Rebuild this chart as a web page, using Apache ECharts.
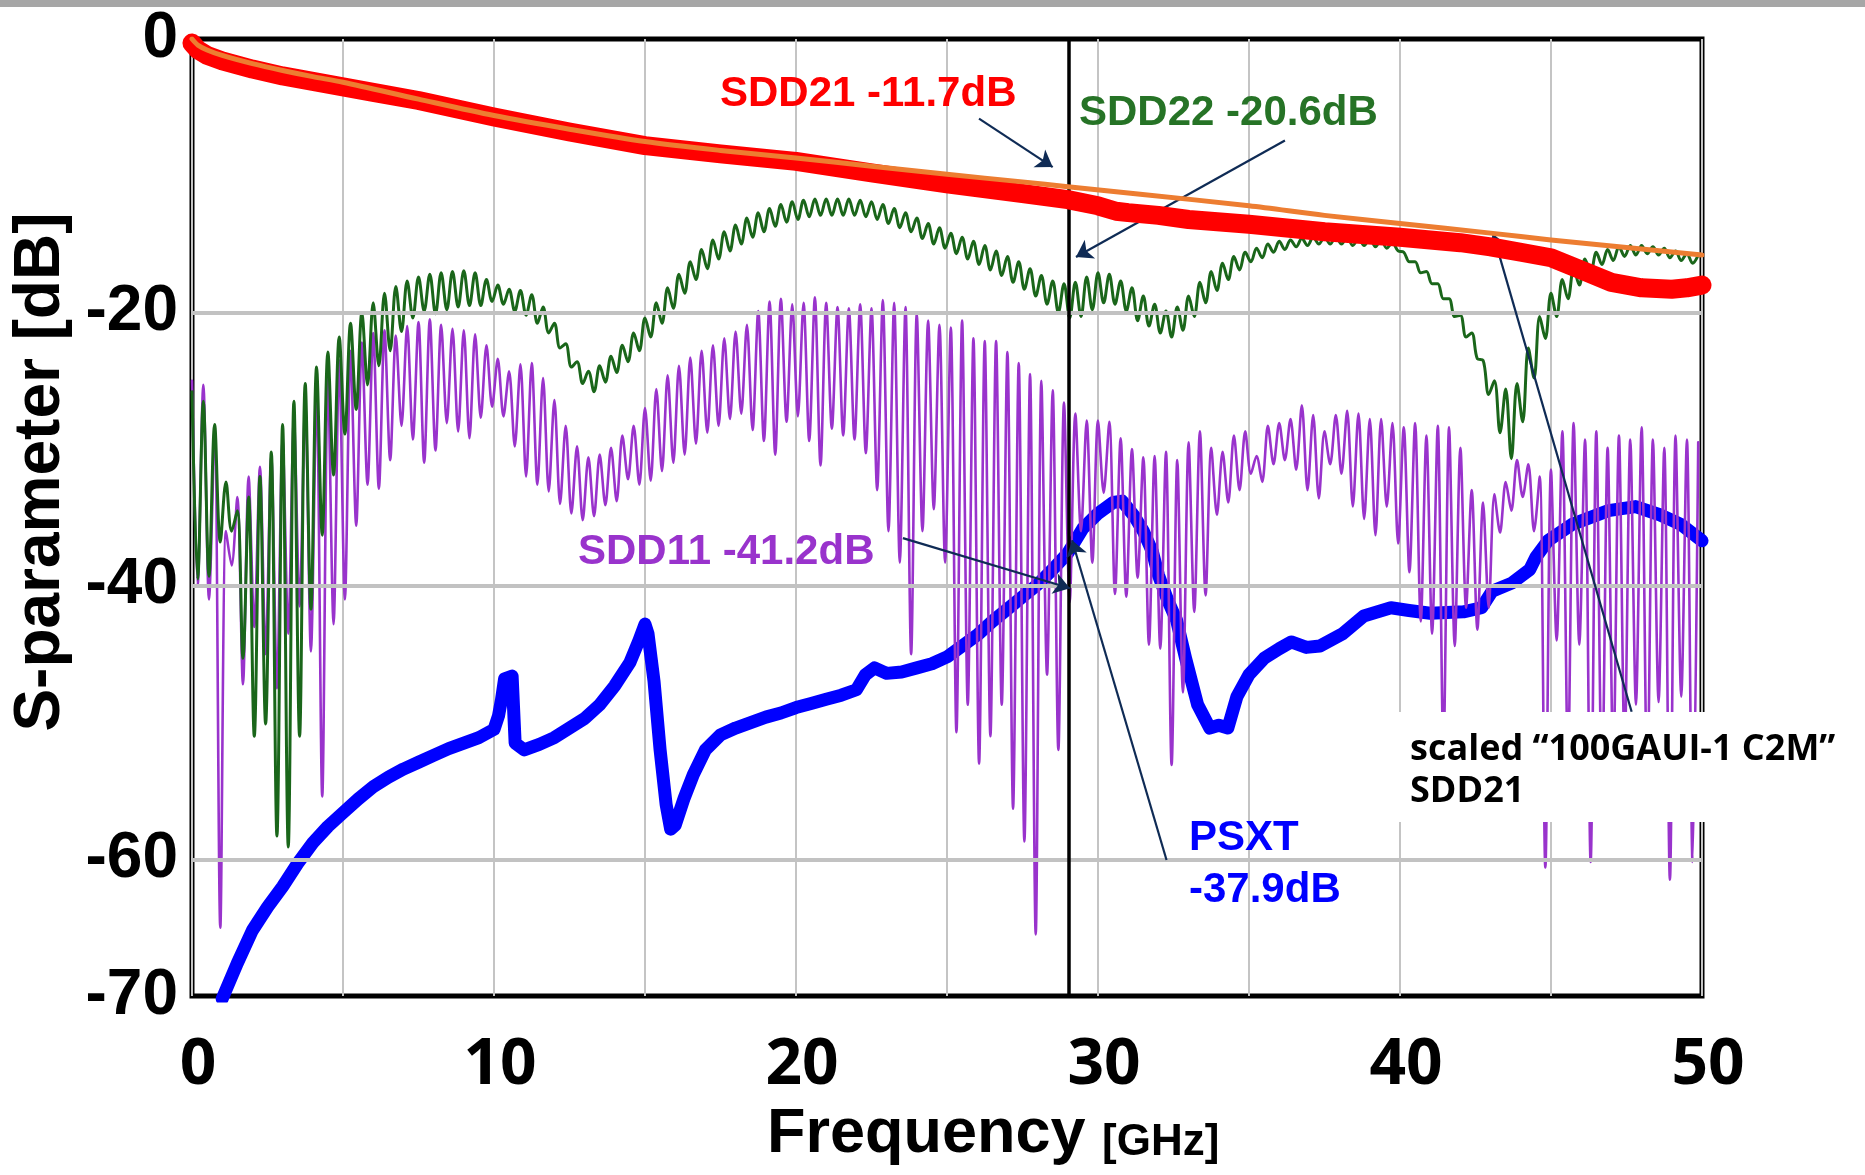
<!DOCTYPE html>
<html><head><meta charset="utf-8">
<script src="https://cdn.jsdelivr.net/npm/echarts/dist/echarts.min.js"></script>
<style>html,body{margin:0;padding:0;background:#fff}#c{width:1865px;height:1175px}</style>
</head><body><div id="c"></div>
<script>
// ---------- data ----------
const yTickLabels = [0, -20, -40, -60, -70];
const xTickLabels = [0, 10, 20, 30, 40, 50];
const yGridLines = [-20, -40, -60];
const markerFreq = 29.04;

// SDD21 (measured, red)
const sdd21Freq = [0,0.2,0.5,1,2,3,4,5,6,7.5,10,12.5,15,17.5,20,22.5,25,27.5,29,30,30.6,31,32,33,35,37.5,40,42,43,44,45,46,47,48,49,49.5,50];
const sdd21Db = [-0.3,-0.8,-1.2,-1.6,-2.2,-2.7,-3.1,-3.5,-3.9,-4.5,-5.7,-6.8,-7.8,-8.4,-8.95,-9.8,-10.6,-11.3,-11.75,-12.2,-12.6,-12.7,-12.9,-13.2,-13.55,-14.1,-14.5,-14.9,-15.2,-15.6,-16.0,-16.9,-17.8,-18.2,-18.3,-18.2,-18.0];

// scaled "100GAUI-1 C2M" SDD21 (orange)
const c2mFreq = [0,0.2,0.5,1,2,3,4,5,7.5,10,12.5,15,17.5,20,22.5,25,27.5,29,31.4,35,37.5,40,43,45,47.5,50];
const c2mDb = [0,-0.45,-0.8,-1.2,-1.8,-2.3,-2.75,-3.16,-4.4,-5.6,-6.6,-7.5,-8.15,-8.7,-9.3,-9.9,-10.45,-10.8,-11.35,-12.2,-12.9,-13.5,-14.2,-14.7,-15.25,-15.8];

// PSXT (blue)
const psxtFreq = [1.0,1.5,2.0,2.5,3.0,3.5,4.0,4.5,5.0,5.5,6.0,6.5,7.0,7.5,8.0,8.5,9.0,9.5,10.0,10.15,10.25,10.35,10.6,10.7,11.0,11.5,12.0,12.5,13.0,13.5,14.0,14.5,14.8,15.0,15.1,15.3,15.5,15.7,15.85,16.0,16.3,16.6,17.0,17.5,18.0,18.5,19.0,19.5,20.0,20.5,21.0,21.5,22.0,22.3,22.6,23.0,23.5,24.0,24.5,25.0,25.5,26.0,26.5,27.0,27.5,28.0,28.5,29.0,29.5,30.0,30.5,30.8,31.2,31.5,31.8,32.0,32.3,32.6,32.9,33.3,33.7,34.0,34.3,34.6,35.0,35.5,36.0,36.4,36.9,37.35,38.1,38.8,39.7,40.3,41.0,42.1,42.7,43.05,43.7,44.3,44.5,44.9,45.7,46.9,47.8,48.6,49.3,50.0];
const psxtDb = [-70.2,-67.6,-65.2,-63.5,-62.0,-60.3,-58.8,-57.6,-56.6,-55.6,-54.7,-54.0,-53.4,-52.9,-52.4,-51.9,-51.5,-51.1,-50.5,-49.5,-48.3,-46.8,-46.6,-51.5,-52.0,-51.6,-51.1,-50.4,-49.7,-48.7,-47.3,-45.6,-44.0,-42.8,-43.5,-47.0,-52.0,-56.0,-57.8,-57.5,-55.5,-53.8,-52.0,-50.9,-50.4,-50.0,-49.6,-49.3,-48.9,-48.6,-48.3,-48.0,-47.6,-46.5,-46.0,-46.4,-46.3,-46.0,-45.7,-45.2,-44.4,-43.6,-42.6,-41.7,-40.8,-39.9,-38.8,-37.6,-35.8,-34.7,-33.9,-33.8,-34.9,-36.0,-37.5,-39.2,-41.0,-42.5,-45.3,-48.7,-50.4,-50.2,-50.4,-48.1,-46.5,-45.3,-44.6,-44.1,-44.5,-44.4,-43.5,-42.2,-41.6,-41.8,-42.0,-41.9,-41.6,-40.4,-39.8,-38.8,-37.9,-36.7,-35.5,-34.5,-34.2,-34.8,-35.5,-36.7];

// Ripple traces: sample spacing (GHz) between a ripple maximum and the next minimum
const rippleStep = 0.1875;

// SDD22 (green): successive ripple maxima and minima
const sdd22Peaks = [
-25.8,-26.5,-28.2,-32.4,-34.5,-33.5,-32.0,-30.2,-28.2,-26.5,
-25.2,-24.0,-22.9,-21.8,-20.8,-20.0,-19.3,-18.6,-18.1,-17.7,
-17.4,-17.2,-17.1,-17.0,-16.95,-17.1,-17.6,-18.0,-18.3,-18.4,
-18.7,-19.6,-20.8,-22.3,-23.6,-24.3,-23.9,-23.2,-22.4,-21.5,
-20.4,-19.3,-18.2,-17.2,-16.3,-15.4,-14.7,-14.1,-13.6,-13.1,
-12.7,-12.4,-12.1,-11.9,-11.8,-11.7,-11.7,-11.7,-11.7,-11.8,
-11.9,-12.1,-12.4,-12.7,-13.1,-13.5,-13.8,-14.2,-14.5,-14.8,
-15.1,-15.5,-15.9,-16.3,-16.8,-17.3,-17.7,-17.9,-17.8,-17.4,
-17.1,-17.2,-17.7,-18.2,-18.8,-19.4,-19.9,-19.6,-18.8,-17.8,
-17.0,-16.4,-15.9,-15.6,-15.3,-15.0,-14.8,-14.7,-14.6,-14.5,
-14.5,-14.5,-14.5,-14.6,-14.6,-14.7,-14.9,-15.6,-16.3,-17.0,
-17.9,-19.0,-20.2,-21.5,-23.5,-25.0,-25.6,-25.2,-22.6,-20.3,
-18.6,-17.6,-16.8,-16.1,-15.6,-15.4,-15.2,-15.1,-15.1,-15.2,
-15.3,-15.5,-15.7,-15.8];
const sdd22Dips = [
-39.5,-39.3,-36.8,-36.0,-45.3,-51.0,-50.1,-58.3,-59.1,-51.0,
-41.7,-36.3,-31.9,-28.9,-27.1,-25.3,-23.9,-22.8,-21.4,-20.4,
-19.9,-20.1,-19.8,-19.6,-19.5,-19.5,-19.2,-19.4,-19.9,-20.2,
-20.8,-21.5,-22.6,-24.0,-25.2,-25.8,-25.1,-24.4,-23.6,-22.8,
-21.8,-20.8,-19.7,-18.6,-17.6,-16.8,-16.1,-15.5,-15.0,-14.5,
-14.1,-13.7,-13.4,-13.2,-13.0,-12.9,-12.9,-12.9,-12.9,-13.0,
-13.2,-13.5,-13.8,-14.1,-14.6,-15.0,-15.3,-15.7,-16.1,-16.5,
-16.9,-17.3,-17.8,-18.3,-18.8,-19.4,-20.0,-20.4,-20.3,-19.8,
-19.3,-19.4,-19.9,-20.6,-21.0,-21.5,-21.8,-21.3,-20.3,-19.3,
-18.4,-17.6,-16.9,-16.3,-16.0,-15.6,-15.4,-15.2,-15.1,-15.0,
-15.0,-15.0,-15.1,-15.1,-15.2,-15.3,-15.5,-16.3,-17.1,-17.9,
-19.0,-20.3,-21.8,-23.4,-26.0,-28.8,-30.7,-28.0,-24.8,-21.9,
-20.3,-19.0,-18.0,-17.1,-16.5,-16.2,-15.9,-15.8,-15.7,-15.8,
-16.0,-16.2,-16.4];

// SDD11 (purple): successive ripple maxima and nulls
const sdd11Peaks = [
-25.0,-25.3,-28.5,-36.0,-33.5,-32.0,-31.3,-30.5,-29.3,-27.8,
-26.6,-25.5,-24.4,-23.5,-22.8,-22.2,-21.5,-21.3,-21.7,-21.0,
-20.7,-20.5,-20.9,-21.2,-21.3,-21.6,-22.4,-23.4,-24.3,-23.8,
-23.7,-24.8,-26.4,-28.3,-29.8,-30.6,-30.4,-29.9,-29.0,-28.3,
-27.0,-25.6,-24.6,-23.9,-23.3,-22.8,-22.4,-21.9,-21.4,-20.9,
-19.9,-19.2,-19.0,-19.4,-19.3,-18.9,-19.3,-19.6,-19.7,-19.4,
-19.7,-19.1,-19.3,-19.6,-20.1,-20.6,-20.9,-21.1,-20.6,-21.9,
-22.1,-22.1,-22.9,-23.7,-24.5,-25.0,-25.7,-26.6,-27.4,-27.9,
-27.9,-28.0,-29.2,-30.0,-30.6,-30.5,-30.2,-30.8,-29.5,-28.7,
-29.9,-30.2,-29.0,-28.7,-30.5,-28.3,-28.1,-27.8,-26.8,-27.5,
-28.7,-27.5,-27.2,-27.4,-27.8,-27.8,-28.1,-28.4,-28.1,-29.0,
-28.3,-28.4,-29.9,-33.0,-33.9,-33.3,-32.4,-30.8,-31.1,-32.0,
-31.5,-28.7,-28.1,-29.3,-28.7,-29.9,-29.0,-29.3,-28.4,-29.3,
-29.9,-29.0,-29.3,-29.5];
const sdd11Dips = [
-40.0,-41.0,-65.0,-38.5,-47.2,-43.0,-45.0,-47.5,-43.5,-41.5,
-44.8,-55.4,-42.8,-41.0,-35.6,-32.6,-32.9,-30.8,-28.3,-29.3,
-31.0,-30.1,-28.1,-28.7,-29.2,-27.7,-26.9,-27.6,-29.8,-32.0,
-32.6,-33.1,-34.0,-34.7,-35.2,-34.9,-34.1,-33.8,-32.2,-32.6,
-32.3,-31.6,-31.0,-30.4,-29.6,-28.8,-28.3,-27.8,-27.4,-28.6,
-29.4,-30.4,-28.0,-27.6,-29.4,-31.2,-28.5,-29.0,-29.3,-30.3,
-33.0,-36.0,-38.3,-45.0,-36.0,-34.4,-38.3,-50.7,-48.7,-53.0,
-51.0,-48.7,-56.3,-58.7,-65.5,-46.5,-52.0,-41.2,-36.0,-38.3,
-33.2,-40.6,-40.8,-39.4,-44.3,-44.6,-53.1,-47.8,-41.9,-40.7,
-34.8,-33.9,-33.0,-31.8,-32.4,-31.1,-30.8,-31.5,-33.0,-33.6,
-31.1,-31.8,-34.2,-35.1,-36.3,-34.2,-36.9,-39.0,-42.6,-43.5,
-52.0,-44.4,-41.6,-43.2,-41.6,-36.1,-34.5,-33.5,-36.0,-60.6,
-44.0,-53.0,-44.3,-60.2,-55.0,-53.0,-52.0,-48.7,-55.0,-48.5,
-61.5,-48.1,-60.2];

// annotation arrows: [freq, dB] tails and heads
const arrowTails = [[26.06,-5.83],[36.19,-7.42],[23.54,-36.51],[32.27,-60.05],[47.67,-49.21]];
const arrowHeads = [[28.50,-9.37],[29.27,-15.94],[29.07,-40.17],[29.14,-36.66],[43.08,-14.24]];

// ---------- build ----------
function pairs(xs, ys) { return xs.map((x, i) => [x, ys[i]]); }
function ripple(peaks, dips) {
  const out = [];
  for (let i = 0; i < peaks.length; i++) {
    out.push([+(2 * i * rippleStep).toFixed(4), peaks[i]]);
    if (i < dips.length) out.push([+((2 * i + 1) * rippleStep).toFixed(4), dips[i]]);
  }
  return out;
}

const chart = echarts.init(document.getElementById('c'), null, {renderer: 'canvas'});
const ARIAL = '"Liberation Sans", Arial, sans-serif';
const SEGOE = '"Open Sans", "Noto Sans", sans-serif';

function lineSeries(name, data, color, width, z, smooth) {
  return {
    name, type: 'line', data, z, smooth: smooth || false,
    showSymbol: false, symbol: 'none', silent: true, animation: false,
    emphasis: {disabled: true},
    lineStyle: {color, width, join: 'round', cap: 'round'}
  };
}

const option = {
  animation: false,
  backgroundColor: '#ffffff',
  grid: {left: 192, top: 39, width: 1510, height: 957, show: true,
         borderColor: '#000', borderWidth: 5, outerBoundsMode: 'none'},
  xAxis: {
    type: 'value', min: 0, max: 50, interval: 5,
    axisLine: {show: false}, axisTick: {show: false},
    splitLine: {show: true, lineStyle: {color: '#c4c4c4', width: 2}},
    axisLabel: {
      formatter: v => (xTickLabels.indexOf(v) >= 0 ? String(v) : ''),
      fontFamily: SEGOE, fontWeight: 'bold', fontSize: 64, color: '#000',
      margin: 38, padding: [0, 0, 0, 12]
    }
  },
  yAxis: {
    type: 'value', min: -70, max: 0, interval: 10,
    axisLine: {show: false}, axisTick: {show: false}, splitLine: {show: false},
    axisLabel: {
      formatter: v => (yTickLabels.indexOf(v) >= 0 ? String(v) : ''),
      fontFamily: ARIAL, fontWeight: 'bold', fontSize: 64, color: '#000', margin: 14
    }
  },
  series: [
    {
      name: 'grid', type: 'line', data: [], z: 1, silent: true, animation: false,
      markLine: {
        silent: true, animation: false, symbol: ['none', 'none'], label: {show: false},
        lineStyle: {color: '#c2c2c2', width: 4, type: 'solid'}, emphasis: {disabled: true},
        data: yGridLines.map(v => ({yAxis: v}))
      }
    },
    lineSeries('PSXT', pairs(psxtFreq, psxtDb), '#0000ff', 13, 2),
    lineSeries('SDD11', ripple(sdd11Peaks, sdd11Dips), '#9933cc', 2.6, 3, 0.3),
    lineSeries('SDD22', ripple(sdd22Peaks, sdd22Dips), '#1a661a', 3, 4, 0.35),
    lineSeries('SDD21', pairs(sdd21Freq, sdd21Db), '#ff0000', 19, 5),
    lineSeries('100GAUI-1 C2M SDD21', pairs(c2mFreq, c2mDb), '#ed7d31', 5, 6, 0.3),
    {
      name: 'annotations', type: 'line', data: [], z: 7, silent: true, animation: false,
      markLine: {
        silent: true, animation: false, symbol: ['none', 'arrow'], symbolSize: 16,
        label: {show: false}, emphasis: {disabled: true},
        lineStyle: {color: '#0f2b55', width: 2.2, type: 'solid'},
        data: [
          [{xAxis: markerFreq, yAxis: 0, symbol: 'none', lineStyle: {color: '#000', width: 3.5}},
           {xAxis: markerFreq, yAxis: -70, symbol: 'none'}]
        ].concat(arrowTails.map((t, i) => [{coord: t}, {coord: arrowHeads[i]}]))
      }
    }
  ],
  graphic: [
    {type: 'rect', silent: true, z: 100, shape: {x: 0, y: 0, width: 1865, height: 7}, style: {fill: '#a6a6a6'}},
    {type: 'rect', silent: true, z: 100, shape: {x: 1396, y: 712, width: 455, height: 110}, style: {fill: '#ffffff'}},
    {type: 'text', z: 101, x: 720, y: 94, style: {text: 'SDD21 -11.7dB', fill: '#ff0000', font: 'bold 42px ' + ARIAL, align: 'left', verticalAlign: 'middle'}},
    {type: 'text', z: 101, x: 1079, y: 113, style: {text: 'SDD22 -20.6dB', fill: '#267326', font: 'bold 42px ' + ARIAL, align: 'left', verticalAlign: 'middle'}},
    {type: 'text', z: 101, x: 578, y: 552, style: {text: 'SDD11 -41.2dB', fill: '#9933cc', font: 'bold 42px ' + ARIAL, align: 'left', verticalAlign: 'middle'}},
    {type: 'text', z: 101, x: 1189, y: 838, style: {text: 'PSXT', fill: '#0000ff', font: 'bold 42px ' + ARIAL, align: 'left', verticalAlign: 'middle'}},
    {type: 'text', z: 101, x: 1189, y: 890, style: {text: '-37.9dB', fill: '#0000ff', font: 'bold 42px ' + ARIAL, align: 'left', verticalAlign: 'middle'}},
    {type: 'text', z: 101, x: 1410, y: 750, style: {text: 'scaled \u201c100GAUI-1 C2M\u201d', fill: '#000', font: 'bold 36px ' + SEGOE, align: 'left', verticalAlign: 'middle'}},
    {type: 'text', z: 101, x: 1410, y: 792, style: {text: 'SDD21', fill: '#000', font: 'bold 36px ' + SEGOE, align: 'left', verticalAlign: 'middle'}},
    {type: 'text', z: 101, x: 767, y: 1135, style: {text: 'Frequency', fill: '#000', font: 'bold 63px ' + ARIAL, align: 'left', verticalAlign: 'middle'}},
    {type: 'text', z: 101, x: 1102, y: 1143, style: {text: '[GHz]', fill: '#000', font: 'bold 44px ' + ARIAL, align: 'left', verticalAlign: 'middle'}},
    {type: 'text', z: 101, x: 41, y: 472, rotation: Math.PI / 2, style: {text: 'S-parameter [dB]', fill: '#000', font: 'bold 64px ' + ARIAL, align: 'center', verticalAlign: 'middle'}}
  ]
};
chart.setOption(option);
</script>
</body></html>
